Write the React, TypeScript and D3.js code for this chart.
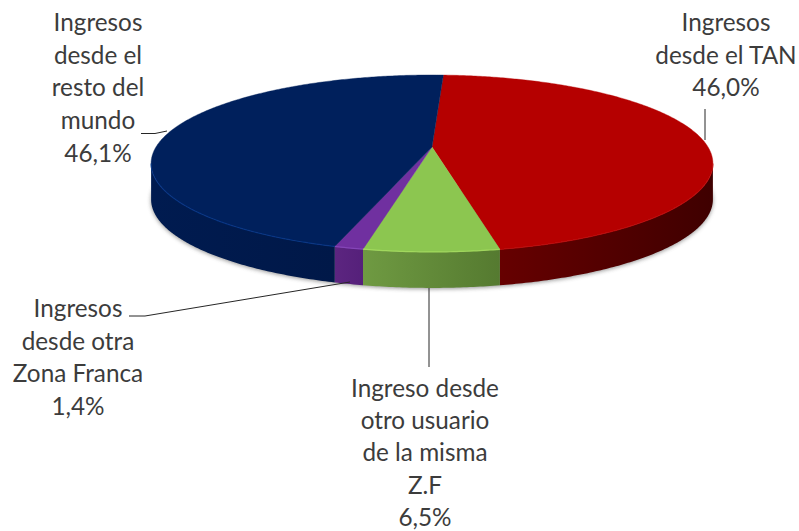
import React from "react";
import * as d3 from "d3";

const W = 799;
const H = 531;

// Values (clockwise from the top of the pie)
const categories = ["Ingresos desde el TAN", "Ingreso desde otro usuario de la misma Z.F", "Ingresos desde otra Zona Franca", "Ingresos desde el resto del mundo"];
const values = [46.0, 6.5, 1.4, 46.1];
const topColors = ["#b50000", "#8cc650", "#7030a0", "#00205c"];
const edgeColors = ["#c00c0c", "#a8e060", "#8a48c0", "#08378a"];
const wallLeft = ["#660000", "#6f9a42", "#5c2580", "#001b50"];
const wallRight = ["#3f0000", "#557a30", "#55207a", "#001848"];

const labelLines = [
  ["Ingresos", "desde el TAN", "46,0%"],
  ["Ingreso desde", "otro usuario", "de la misma", "Z.F", "6,5%"],
  ["Ingresos", "desde otra", "Zona Franca", "1,4%"],
  ["Ingresos", "desde el", "resto del", "mundo", "46,1%"],
];
const labelAnchorX = [726, 425, 78, 98];
const labelFirstY = [31, 396.5, 317, 31];
const lineStep = [32.5, 32.4, 32.5, 32.7];

const leaderLines: [number, number][][] = [
  [[705, 109], [705, 140]],
  [[429, 288], [429, 367]],
  [[129, 316], [145, 316], [350, 282]],
  [[141, 133.5], [155, 133.5], [167, 131]],
];

// Projection of the tilted disc
const cx = 432;
const apexY = 147;
const persp = -0.186;
const scaleX = 276;
const scaleY = 85.4;
const depth = 36;
const startAngle = (2.8 * Math.PI) / 180;

const project = (a: number, dy = 0): [number, number] => {
  const u = Math.sin(a);
  const v = -Math.cos(a);
  const d = 1 + persp * v;
  return [cx + (scaleX * u) / d, apexY + (scaleY * v) / d + dy];
};

const frontStart = Math.acos(persp);
const frontEnd = 2 * Math.PI - frontStart;

const arcs = d3
  .pie<number>()
  .sort(null)
  .startAngle(startAngle)
  .endAngle(startAngle + 2 * Math.PI)(values);

const line = d3.line<[number, number]>();
const samples = (a0: number, a1: number) => {
  const n = Math.max(2, Math.ceil((a1 - a0) / 0.01));
  return d3.range(n + 1).map((i) => a0 + ((a1 - a0) * i) / n);
};

const topPath = (a0: number, a1: number) => {
  const pts = samples(a0, a1).map((a) => project(a));
  return line([[cx, apexY], ...pts]) + "Z";
};
const wallPath = (a0: number, a1: number) => {
  const s = samples(a0, a1);
  return line([...s.map((a) => project(a)), ...s.slice().reverse().map((a) => project(a, depth))]) + "Z";
};
const edgePath = (a0: number, a1: number) => line(samples(a0, a1).map((a) => project(a)));
const shadowPath = line(samples(frontStart - 0.15, frontEnd + 0.15).map((a) => project(a, depth + 1))) + "Z";

const font = "Lato, Carlito, 'Open Sans', sans-serif";

export default function App() {
  return (
    <svg width={W} height={H} viewBox={`0 0 ${W} ${H}`} style={{ position: "absolute", left: 0, top: 0, background: "#fff" }}>
      <defs>
        <filter id="soft" x="-5%" y="-5%" width="110%" height="110%">
          <feGaussianBlur stdDeviation="2.2" />
        </filter>
        <filter id="edge" x="-5%" y="-20%" width="110%" height="140%">
          <feGaussianBlur stdDeviation="0.6" />
        </filter>
        {arcs.map((d, i) => {
          const a0 = Math.max(d.startAngle, frontStart);
          const a1 = Math.min(d.endAngle, frontEnd);
          const x0 = project(a0)[0];
          const x1 = project(a1)[0];
          return (
            <linearGradient key={i} id={`wall${i}`} gradientUnits="userSpaceOnUse" x1={Math.min(x0, x1)} x2={Math.max(x0, x1)} y1={0} y2={0}>
              <stop offset="0" stopColor={wallLeft[i]} />
              <stop offset="1" stopColor={wallRight[i]} />
            </linearGradient>
          );
        })}
      </defs>

      <path d={shadowPath} fill="#808080" opacity={0.85} filter="url(#soft)" />

      {arcs.map((d, i) => {
        const a0 = Math.max(d.startAngle, frontStart);
        const a1 = Math.min(d.endAngle, frontEnd);
        if (a1 <= a0) return null;
        return <path key={i} d={wallPath(a0, a1)} fill={`url(#wall${i})`} />;
      })}

      {arcs.map((d, i) => (
        <path key={i} d={topPath(d.startAngle, d.endAngle)} fill={topColors[i]} stroke={topColors[i]} strokeWidth={0.4} />
      ))}

      {arcs.map((d, i) => {
        const a0 = Math.max(d.startAngle, frontStart);
        const a1 = Math.min(d.endAngle, frontEnd);
        if (a1 <= a0) return null;
        return <path key={i} d={edgePath(a0, a1) ?? ""} fill="none" stroke={edgeColors[i]} strokeWidth={1.2} opacity={0.8} filter="url(#edge)" />;
      })}

      {leaderLines.map((pts, i) => (
        <path key={i} d={line(pts) ?? ""} fill="none" stroke="#262626" strokeWidth={1} />
      ))}

      {labelLines.map((lines, i) => (
        <text key={categories[i]} textAnchor="middle" fontFamily={font} fontSize={24.3} fill="#3c3c3c">
          {lines.map((t, j) => (
            <tspan key={j} x={labelAnchorX[i]} y={labelFirstY[i] + j * lineStep[i]}>
              {t}
            </tspan>
          ))}
        </text>
      ))}
    </svg>
  );
}
